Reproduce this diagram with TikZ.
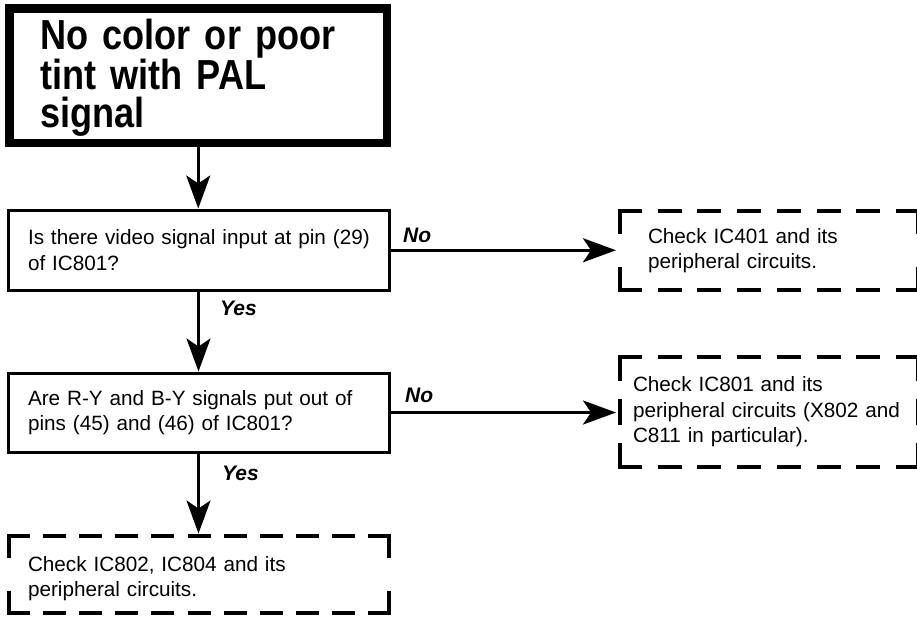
\documentclass[tikz,border=0pt]{standalone}
\usepackage{fontspec}
\setmainfont{Liberation Sans}
\newfontfamily\titlefont[FakeStretch=0.86]{Liberation Sans}
\usetikzlibrary{arrows.meta}
\newcommand{\dashedsides}[3]{%
  \draw[dside,#2] (#1.north west) -- (#1.north east);
  \draw[dside,#2] (#1.south west) -- (#1.south east);
  \draw[dside,#3] (#1.north west) -- (#1.south west);
  \draw[dside,#3] (#1.north east) -- (#1.south east);}
\begin{document}
\begin{tikzpicture}[x=1pt,y=-1pt,
  bodyfont/.style={font=\fontsize{20.7}{25.5}\selectfont},
  titlebox/.style={draw, line width=8.5pt, minimum width=377.5pt, minimum height=134.5pt,
    inner xsep=31pt, inner ysep=2pt, text width=315.5pt, align=left,
    font={\titlefont\bfseries\fontsize{42}{38}\selectfont}},
  qbox/.style={draw, line width=3pt, minimum width=381pt, inner xsep=20pt, inner ysep=2pt,
    text width=341pt, align=left, bodyfont},
  dbox/.style={outer sep=0pt, inner ysep=2pt, align=left, bodyfont},
  dside/.style={line width=4pt, line cap=rect},
  phA/.style={dash pattern=on 20pt off 19.71pt},
  pvA/.style={dash pattern=on 21pt off 37pt},
  pvB/.style={dash pattern=on 22pt off 22pt},
  phC/.style={dash pattern=on 19pt off 17.1pt},
  pvC/.style={dash pattern=on 20pt off 37.5pt},
  arr/.style={line width=3pt, -{Stealth[length=33pt,width=24pt,inset=8pt]}},
  lbl/.style={inner sep=0pt, anchor=base west, font=\fontsize{21}{25}\selectfont\bfseries\itshape}
]
\useasboundingbox (0,0) rectangle (917,619);

\node[titlebox] (t) at (198.25,75.75) {\rule{0pt}{35pt}No color or poor\\tint with PAL\\signal};

\node[qbox, minimum height=80.5pt] (q1) at (198.5,250.25)
  {\mbox{Is there video signal input at pin (29)}\\of IC801?};
\node[qbox, minimum height=79pt] (q2) at (198.5,412.5)
  {\mbox{Are R-Y and B-Y signals put out of}\\pins (45) and (46) of IC801?};

\node[dbox, minimum width=298pt, minimum height=79pt, inner xsep=28pt, text width=242pt] (d1) at (769,250.5)
  {Check IC401 and its\\peripheral circuits.};
\node[dbox, minimum width=298pt, minimum height=110pt, inner xsep=13pt, text width=272pt] (d2) at (769,412)
  {Check IC801 and its\\\mbox{peripheral circuits (X802 and}\\C811 in particular).};
\node[dbox, minimum width=380pt, minimum height=77.5pt, inner xsep=19pt, text width=342pt] (d3) at (199,574.25)
  {\rule{0pt}{24pt}Check IC802, IC804 and its\\peripheral circuits.};

\dashedsides{d1}{phA}{pvA}
\dashedsides{d2}{phA}{pvB}
\dashedsides{d3}{phC}{pvC}

\draw[arr] (t.south) -- (t.south |- q1.north);
\draw[arr] (q1.south) -- (q1.south |- q2.north);
\draw[arr, shorten >=2pt] (q2.south) -- (q2.south |- d3.north);
\draw[arr, shorten >=4pt] (q1.east) -- (q1.east -| d1.west);
\draw[arr, shorten >=4pt] (q2.east) -- (q2.east -| d2.west);

\node[lbl] (no1) at (403,242.5) {No};
\node[lbl] (no2) at (405,402.5) {No};
\node[lbl] (yes1) at (220,315) {Yes};
\node[lbl] (yes2) at (222,480) {Yes};
\end{tikzpicture}
\end{document}
